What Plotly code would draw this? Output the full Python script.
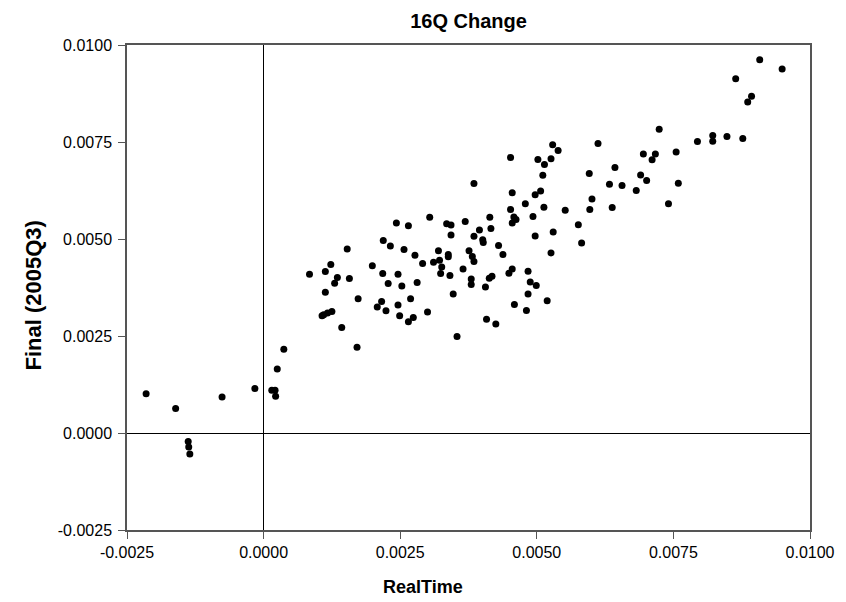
import plotly.graph_objects as go

title_text = "16Q Change"
x_title = "RealTime"
y_title = "Final (2005Q3)"

tick_vals = [-0.0025, 0.0, 0.0025, 0.0050, 0.0075, 0.0100]
tick_text = ["-0.0025", "0.0000", "0.0025", "0.0050", "0.0075", "0.0100"]

realtime = [
    -0.00215, -0.00161, -0.00076, -0.00016, 0.00015, 0.00021, 0.00022, -0.00138, -0.00137, -0.00135, 0.00025, 0.00037,
    0.00084, 0.00113, 0.00123, 0.00135, 0.00130, 0.00113, 0.00107, 0.00110, 0.00117, 0.00125, 0.00143, 0.00153,
    0.00157, 0.00173, 0.00171, 0.00199, 0.00218, 0.00228, 0.00216, 0.00208, 0.00224, 0.00219, 0.00232, 0.00257,
    0.00246, 0.00253, 0.00246, 0.00249, 0.00265, 0.00274, 0.00269, 0.00281, 0.00277, 0.00291, 0.00300, 0.00311,
    0.00320, 0.00322, 0.00326, 0.00324, 0.00338, 0.00338, 0.00341, 0.00347, 0.00354, 0.00365,
    0.00243, 0.00265, 0.00304, 0.00335, 0.00343, 0.00343, 0.00369, 0.00376,
    0.00385, 0.00414, 0.00395, 0.00416, 0.00385, 0.00401, 0.00402, 0.00382, 0.00430, 0.00438, 0.00452, 0.00455,
    0.00452, 0.00458, 0.00462, 0.00455, 0.00479, 0.00493, 0.00497, 0.00513, 0.00497, 0.00507, 0.00511, 0.00502,
    0.00514, 0.00526, 0.00529, 0.00539, 0.00530, 0.00526,
    0.00385, 0.00380, 0.00380, 0.00406, 0.00413, 0.00418, 0.00408, 0.00425, 0.00449, 0.00455, 0.00459, 0.00484,
    0.00488, 0.00499, 0.00484, 0.00481, 0.00519,
    0.00612, 0.00596, 0.00643, 0.00633, 0.00656, 0.00682, 0.00690, 0.00701, 0.00695, 0.00717, 0.00711, 0.00724,
    0.00755, 0.00759, 0.00741, 0.00794, 0.00601, 0.00597, 0.00638, 0.00552, 0.00576, 0.00582,
    0.00908, 0.00949, 0.00864, 0.00893, 0.00886, 0.00822, 0.00822, 0.00848, 0.00877,
]

final_2005q3 = [
    0.00101, 0.00063, 0.00093, 0.00115, 0.00110, 0.00110, 0.00095, -0.00022, -0.00036, -0.00054, 0.00165, 0.00216,
    0.00409, 0.00416, 0.00434, 0.00401, 0.00386, 0.00363, 0.00302, 0.00305, 0.00309, 0.00313, 0.00272, 0.00474,
    0.00398, 0.00346, 0.00221, 0.00431, 0.00411, 0.00385, 0.00339, 0.00325, 0.00315, 0.00496, 0.00482, 0.00473,
    0.00409, 0.00379, 0.00330, 0.00302, 0.00287, 0.00298, 0.00346, 0.00388, 0.00458, 0.00437, 0.00312, 0.00440,
    0.00470, 0.00445, 0.00428, 0.00411, 0.00460, 0.00454, 0.00406, 0.00358, 0.00249, 0.00423,
    0.00541, 0.00534, 0.00556, 0.00539, 0.00536, 0.00510, 0.00545, 0.00470,
    0.00643, 0.00556, 0.00523, 0.00527, 0.00507, 0.00498, 0.00491, 0.00455, 0.00483, 0.00460, 0.00710, 0.00619,
    0.00576, 0.00557, 0.00550, 0.00541, 0.00591, 0.00558, 0.00508, 0.00582, 0.00614, 0.00624, 0.00664, 0.00705,
    0.00692, 0.00707, 0.00743, 0.00728, 0.00518, 0.00464,
    0.00442, 0.00397, 0.00383, 0.00376, 0.00399, 0.00404, 0.00293, 0.00281, 0.00412, 0.00423, 0.00331, 0.00417,
    0.00389, 0.00380, 0.00358, 0.00316, 0.00341,
    0.00746, 0.00669, 0.00684, 0.00641, 0.00638, 0.00625, 0.00665, 0.00651, 0.00719, 0.00719, 0.00704, 0.00783,
    0.00724, 0.00644, 0.00591, 0.00751, 0.00603, 0.00576, 0.00581, 0.00574, 0.00537, 0.00490,
    0.00962, 0.00938, 0.00913, 0.00868, 0.00853, 0.00767, 0.00752, 0.00764, 0.00759,
]

FONT = "Arial, Liberation Sans, sans-serif"

fig = go.Figure()
fig.add_trace(go.Scatter(
    x=realtime, y=final_2005q3, mode="markers",
    marker=dict(color="black", size=7, line=dict(width=0)),
    showlegend=False, hoverinfo="x+y",
))

axis_common = dict(
    tickmode="array", tickvals=tick_vals, ticktext=tick_text,
    ticks="outside", ticklen=7, tickwidth=1, tickcolor="#555",
    showline=True, linecolor="#555", linewidth=1.5, mirror=True,
    showgrid=False, zeroline=True, zerolinecolor="black", zerolinewidth=1,
    tickfont=dict(family=FONT, size=16, color="black"),
)

fig.update_layout(
    width=846, height=602,
    margin=dict(l=127, r=36, t=45, b=72),
    paper_bgcolor="white", plot_bgcolor="white",
    title=dict(text="<b>%s</b>" % title_text, x=(127 + 810) / 2 / 846, xanchor="center",
               y=1 - 21 / 602, yanchor="middle",
               font=dict(family=FONT, size=20, color="black")),
    xaxis=dict(range=[-0.0025, 0.0100], **axis_common),
    yaxis=dict(range=[-0.0025, 0.0100], ticklabelstandoff=3, **axis_common),
    annotations=[
        dict(text="<b>%s</b>" % x_title, xref="paper", yref="paper",
             x=(423 - 127) / 683, y=-(587 - 530.5) / 485, xanchor="center", yanchor="middle",
             showarrow=False, font=dict(family=FONT, size=18, color="black")),
        dict(text="<b>%s</b>" % y_title, xref="paper", yref="paper",
             x=-(127 - 33) / 683, y=(530.5 - 296) / 485, xanchor="center", yanchor="middle",
             textangle=-90, showarrow=False, font=dict(family=FONT, size=22, color="black")),
    ],
)

fig.write_html("out.html")
